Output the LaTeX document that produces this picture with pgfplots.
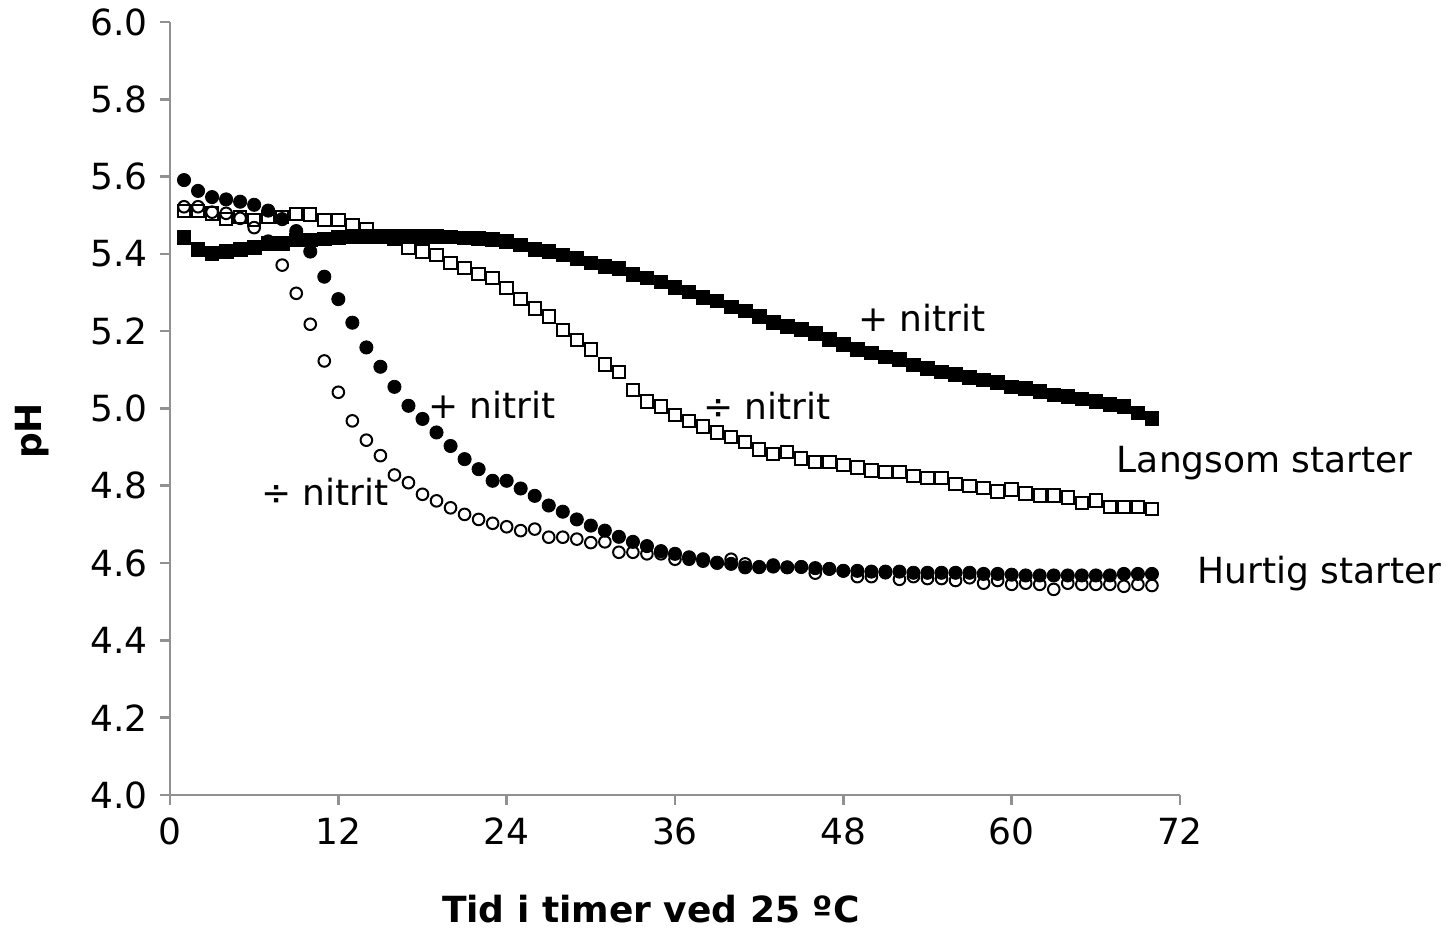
\documentclass[border=0pt]{standalone}
\usepackage{fontspec}
\setmainfont{DejaVu Sans}
\usepackage{pgfplots}
\pgfplotsset{compat=1.18}
\usepackage{pgfplotstable}
\definecolor{axisgray}{RGB}{145,145,145}

\pgfplotstableread{
t y
1 5.442
2 5.412
3 5.401
4 5.406
5 5.412
6 5.417
7 5.427
8 5.427
9 5.436
10 5.436
11 5.439
12 5.443
13 5.446
14 5.446
15 5.446
16 5.446
17 5.446
18 5.446
19 5.446
20 5.444
21 5.441
22 5.440
23 5.437
24 5.432
25 5.423
26 5.412
27 5.406
28 5.397
29 5.389
30 5.377
31 5.367
32 5.363
33 5.347
34 5.338
35 5.328
36 5.314
37 5.302
38 5.288
39 5.278
40 5.263
41 5.252
42 5.238
43 5.222
44 5.213
45 5.205
46 5.194
47 5.179
48 5.166
49 5.153
50 5.144
51 5.134
52 5.127
53 5.113
54 5.104
55 5.095
56 5.088
57 5.081
58 5.074
59 5.067
60 5.056
61 5.052
62 5.045
63 5.035
64 5.031
65 5.025
66 5.018
67 5.011
68 5.005
69 4.989
70 4.975
}\langsomplus

\pgfplotstableread{
t y
1 5.511
2 5.511
3 5.505
4 5.490
5 5.495
6 5.488
7 5.496
8 5.495
9 5.503
10 5.502
11 5.488
12 5.488
13 5.473
14 5.464
15 5.447
16 5.438
17 5.417
18 5.406
19 5.397
20 5.376
21 5.364
22 5.348
23 5.337
24 5.312
25 5.284
26 5.259
27 5.238
28 5.203
29 5.177
30 5.153
31 5.114
32 5.094
33 5.048
34 5.018
35 5.005
36 4.983
37 4.968
38 4.953
39 4.938
40 4.927
41 4.914
42 4.894
43 4.882
44 4.888
45 4.871
46 4.862
47 4.862
48 4.854
49 4.847
50 4.840
51 4.835
52 4.835
53 4.825
54 4.820
55 4.820
56 4.805
57 4.800
58 4.795
59 4.785
60 4.790
61 4.780
62 4.775
63 4.775
64 4.770
65 4.755
66 4.762
67 4.745
68 4.745
69 4.745
70 4.740
}\langsomminus

\pgfplotstableread{
t y
1 5.591
2 5.563
3 5.547
4 5.541
5 5.535
6 5.527
7 5.512
8 5.490
9 5.459
10 5.406
11 5.341
12 5.283
13 5.222
14 5.158
15 5.108
16 5.056
17 5.007
18 4.973
19 4.938
20 4.903
21 4.869
22 4.843
23 4.813
24 4.813
25 4.793
26 4.774
27 4.749
28 4.733
29 4.713
30 4.697
31 4.684
32 4.668
33 4.655
34 4.644
35 4.631
36 4.624
37 4.615
38 4.610
39 4.601
40 4.598
41 4.589
42 4.590
43 4.591
44 4.589
45 4.590
46 4.587
47 4.585
48 4.580
49 4.580
50 4.578
51 4.578
52 4.578
53 4.575
54 4.575
55 4.575
56 4.575
57 4.575
58 4.572
59 4.572
60 4.570
61 4.568
62 4.568
63 4.568
64 4.568
65 4.568
66 4.568
67 4.568
68 4.572
69 4.572
70 4.572
}\hurtigplus

\pgfplotstableread{
t y
1 5.522
2 5.522
3 5.508
4 5.505
5 5.492
6 5.468
7 5.433
8 5.371
9 5.298
10 5.218
11 5.123
12 5.042
13 4.968
14 4.918
15 4.878
16 4.828
17 4.808
18 4.778
19 4.761
20 4.743
21 4.726
22 4.713
23 4.703
24 4.694
25 4.684
26 4.688
27 4.667
28 4.667
29 4.662
30 4.653
31 4.655
32 4.628
33 4.628
34 4.624
35 4.624
36 4.610
37 4.610
38 4.605
39 4.600
40 4.610
41 4.598
42 4.589
43 4.595
44 4.589
45 4.590
46 4.574
47 4.585
48 4.580
49 4.565
50 4.565
51 4.575
52 4.558
53 4.565
54 4.560
55 4.560
56 4.555
57 4.562
58 4.548
59 4.555
60 4.545
61 4.548
62 4.545
63 4.532
64 4.548
65 4.545
66 4.545
67 4.545
68 4.540
69 4.545
70 4.542
}\hurtigminus

\begin{document}
\fontsize{18}{21.6}\selectfont
\begin{tikzpicture}
\begin{axis}[
  width=505pt, height=386.5pt, scale only axis,
  xmin=0, xmax=72, ymin=4, ymax=6,
  axis x line*=bottom, axis y line*=left,
  axis line style={draw=axisgray, line width=1.3pt, -},
  xtick={0,12,24,36,48,60,72},
  ytick={4.0,4.2,4.4,4.6,4.8,5.0,5.2,5.4,5.6,5.8,6.0},
  tick align=outside, major tick length=5pt,
  tick style={draw=axisgray, line width=1.3pt},
  /pgf/number format/assume math mode=true,
  yticklabel style={/pgf/number format/fixed, /pgf/number format/fixed zerofill, /pgf/number format/precision=1},
  ticklabel style={font=\fontsize{18}{21.6}\selectfont},
  xlabel={\textbf{Tid i timer ved 25 ºC}},
  xlabel style={at={(axis description cs:0.476,-0.147)}, anchor=center},
  ylabel={\textbf{pH}},
  ylabel style={at={(axis description cs:-0.137,0.471)}, anchor=center},
  clip=false,
]
\addplot[only marks, mark=square*, mark size=3.4pt, black] table[x=t,y=y] {\langsomplus};
\addplot[only marks, mark=square, mark size=3.1pt, black, mark options={fill=white, line width=1pt}] table[x=t,y=y] {\langsomminus};
\addplot[only marks, mark=*, mark size=3.3pt, black] table[x=t,y=y] {\hurtigplus};
\addplot[only marks, mark=o, mark size=2.9pt, black, mark options={fill=white, line width=1pt}] table[x=t,y=y] {\hurtigminus};

\node at (axis cs:53.6,5.234) {+ nitrit};
\node at (axis cs:42.55,5.006) {÷ nitrit};
\node at (axis cs:22.95,5.009) {+ nitrit};
\node at (axis cs:11.05,4.784) {÷ nitrit};
\node at (axis cs:78.05,4.859) {Langsom starter};
\node at (axis cs:81.97,4.574) {Hurtig starter};
\end{axis}
\pgfresetboundingbox
\path (-85pt,-68.5pt) rectangle (641.5pt,397.5pt);
\end{tikzpicture}
\end{document}
